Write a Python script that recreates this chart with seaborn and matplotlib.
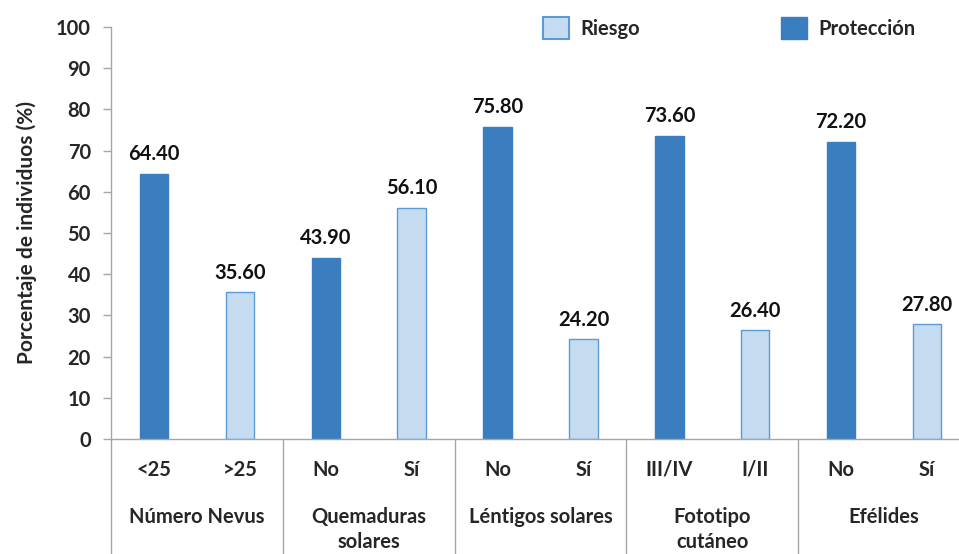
import seaborn as sns
import matplotlib.pyplot as plt
import matplotlib.transforms as mtransforms
from matplotlib.patches import Patch
import pandas as pd

sns.set_style("white")
plt.rcParams['font.family'] = ['Lato', 'DejaVu Sans']
plt.rcParams['font.weight'] = 'bold'
plt.rcParams['axes.labelweight'] = 'bold'

# data
grupos = ["Número Nevus", "Quemaduras\nsolares", "Léntigos solares", "Fototipo\ncutáneo", "Efélides"]
subcats = ["<25", ">25", "No", "Sí", "No", "Sí", "III/IV", "I/II", "No", "Sí"]
tipo = ["Protección", "Riesgo"] * 5
valores = [64.40, 35.60, 43.90, 56.10, 75.80, 24.20, 73.60, 26.40, 72.20, 27.80]

df = pd.DataFrame({
    'pos': [f"{i}" for i in range(len(subcats))],
    'sub': subcats,
    'tipo': tipo,
    'valor': valores,
})

col_prot = "#3A7EC0"
col_riesgo = "#C5DCF0"
edge_riesgo = "#5B9BD5"
gris = "#A6A6A6"
fs = 14.5

fig = plt.figure(figsize=(9.59, 5.54), dpi=100)
ax = fig.add_axes([111/959, 1 - 439/554, (970 - 111)/959, 412/554])

sns.barplot(data=df, x='pos', y='valor', hue='tipo', dodge=False, width=0.33,
            palette={"Protección": col_prot, "Riesgo": col_riesgo}, saturation=1,
            hue_order=["Riesgo", "Protección"], legend=False, ax=ax)

for cont in ax.containers:
    for p in cont:
        if p.get_height() > 0:
            fc = p.get_facecolor()
            p.set_edgecolor(edge_riesgo if fc[0] > 0.5 else col_prot)
            p.set_linewidth(1.0)
    ax.bar_label(cont, fmt='%.2f', padding=7, fontsize=fs, color='#111111')

ax.set_xlim(-0.5, 9.5)
ax.set_ylim(0, 100)
ax.set_yticks(range(0, 101, 10))
ax.tick_params(axis='y', labelsize=fs, length=5.5, width=1, color=gris, pad=9, left=True)
ax.tick_params(axis='x', length=0, labelsize=fs, pad=15)
ax.set_xticks(range(len(subcats)))
ax.set_xticklabels(subcats)
ax.set_xlabel('')
ax.set_ylabel('Porcentaje de individuos (%)', fontsize=15, labelpad=14)

sns.despine(ax=ax, top=True, right=True)
for s in ['left', 'bottom']:
    ax.spines[s].set_color(gris)
    ax.spines[s].set_linewidth(1)

trans = mtransforms.blended_transform_factory(ax.transData, ax.transAxes)
fondo = -(554 - 439) / 412
for xs in [-0.5, 1.5, 3.5, 5.5, 7.5, 9.5]:
    ax.plot([xs, xs], [0, fondo], transform=trans, color=gris, lw=1, clip_on=False)

for i, g in enumerate(grupos):
    ax.text(2 * i + 0.5, -(507 - 439) / 412, g, transform=trans, ha='center', va='top',
            fontsize=fs, linespacing=1.3)

handles = [Patch(facecolor=col_riesgo, edgecolor=edge_riesgo, lw=1.5, label='Riesgo'),
           Patch(facecolor=col_prot, edgecolor=col_prot, label='Protección')]
fig.legend(handles=handles, loc='center left', bbox_to_anchor=(525/959, 1 - 28/554),
           ncol=2, frameon=False, handlelength=1.3, handleheight=1.3,
           handletextpad=0.55, columnspacing=7.0, prop={'weight': 'bold', 'size': fs})

fig.savefig('out.png', dpi=100)
